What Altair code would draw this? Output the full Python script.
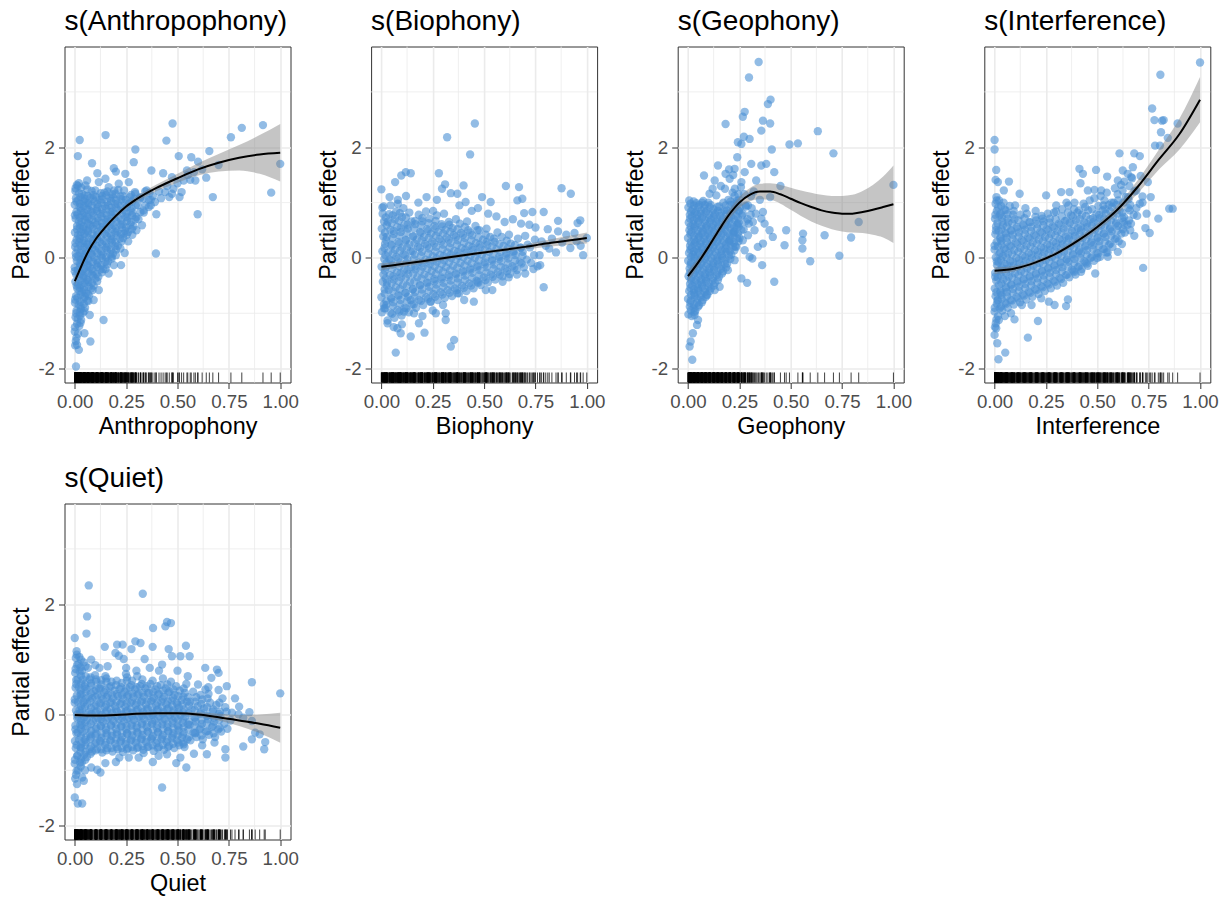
import altair as alt
import pandas as pd

FONT = "Liberation Sans"
W, H = 226, 336
X_DOMAIN = [-0.05, 1.05]
Y_DOMAIN = [-2.25, 3.82]
X_TICKS = [0, 0.25, 0.5, 0.75, 1.0]
Y_TICKS = [-2, 0, 2]
X_MINOR = [0.125, 0.375, 0.625, 0.875]
Y_MINOR = [-1, 1, 3]
POINT_COLOR = "#4A8FD3"

# Dense clouds are stored as (x values, y values) groups;
# isolated points as (x, y) pairs.

# ---------------- Anthropophony ----------------
anthro_cloud = [
    ([0.002, 0.008, 0.0, 0.011, 0.004, 0.009, 0.001, 0.006, 0.012, 0.003, 0.007, 0.0, 0.010, 0.005, 0.002, 0.009, 0.001, 0.011, 0.004, 0.008, 0.0, 0.006, 0.003, 0.010],
     [-1.58, -1.44, -1.33, -1.19, -1.07, -0.95, -0.81, -0.69, -0.55, -0.43, -0.3, -0.17, -0.05, 0.08, 0.2, 0.33, 0.46, 0.58, 0.71, 0.83, 0.96, 1.08, 1.21, 1.32]),
    ([0.005, 0.001, 0.007, 0.002, 0.009, 0.0, 0.006, 0.003, 0.011, 0.001, 0.008, 0.004],
     [-1.5, -1.25, -1.0, -0.75, -0.5, -0.24, 0.02, 0.27, 0.52, 0.77, 1.02, 1.26]),
    ([0.016, 0.022, 0.014, 0.025, 0.019, 0.013, 0.023, 0.017, 0.021, 0.015, 0.024, 0.018, 0.013, 0.022, 0.016, 0.025, 0.02, 0.014, 0.023, 0.017, 0.021, 0.015],
     [-1.37, -1.23, -1.1, -0.98, -0.85, -0.72, -0.6, -0.47, -0.34, -0.22, -0.09, 0.03, 0.16, 0.28, 0.41, 0.54, 0.66, 0.79, 0.92, 1.04, 1.17, 1.3]),
    ([0.028, 0.025, 0.03, 0.026, 0.029, 0.024, 0.027, 0.029, 0.025, 0.03, 0.026, 0.028, 0.024, 0.029, 0.027, 0.025, 0.03, 0.026, 0.028],
     [-1.17, -1.04, -0.92, -0.79, -0.66, -0.54, -0.41, -0.28, -0.16, -0.03, 0.09, 0.22, 0.35, 0.47, 0.6, 0.73, 0.85, 0.98, 1.1]),
    ([0.031, 0.04, 0.028, 0.043, 0.035, 0.03, 0.042, 0.037, 0.029, 0.044, 0.033, 0.039, 0.028, 0.041, 0.034, 0.038, 0.03, 0.043, 0.036, 0.032],
     [-1.12, -0.99, -0.87, -0.74, -0.61, -0.49, -0.36, -0.23, -0.11, 0.02, 0.14, 0.27, 0.4, 0.52, 0.65, 0.78, 0.9, 1.03, 1.15, 1.27]),
    ([0.047, 0.044, 0.049, 0.045, 0.048, 0.043, 0.046, 0.048, 0.044, 0.049, 0.045, 0.047, 0.043, 0.048, 0.046, 0.044, 0.049],
     [-0.96, -0.83, -0.7, -0.58, -0.45, -0.32, -0.19, -0.07, 0.06, 0.19, 0.31, 0.44, 0.57, 0.69, 0.82, 0.94, 1.07]),
    ([0.05, 0.061, 0.054, 0.047, 0.058, 0.052, 0.063, 0.049, 0.057, 0.06, 0.048, 0.055, 0.062, 0.051, 0.059, 0.053, 0.048, 0.061],
     [-0.9, -0.77, -0.64, -0.52, -0.39, -0.26, -0.13, -0.01, 0.12, 0.25, 0.37, 0.5, 0.63, 0.75, 0.88, 1.0, 1.13, 1.24]),
    ([0.066, 0.063, 0.068, 0.064, 0.067, 0.062, 0.065, 0.067, 0.063, 0.068, 0.064, 0.066, 0.062, 0.067, 0.065, 0.063],
     [-0.78, -0.65, -0.52, -0.4, -0.27, -0.14, -0.02, 0.11, 0.24, 0.36, 0.49, 0.61, 0.74, 0.87, 0.99, 1.12]),
    ([0.07, 0.08, 0.067, 0.083, 0.074, 0.069, 0.079, 0.072, 0.084, 0.066, 0.077, 0.071, 0.081, 0.068, 0.076, 0.082],
     [-0.68, -0.55, -0.43, -0.3, -0.17, -0.05, 0.08, 0.21, 0.34, 0.46, 0.59, 0.71, 0.84, 0.96, 1.09, 1.21]),
    ([0.087, 0.084, 0.089, 0.085, 0.088, 0.083, 0.086, 0.088, 0.084, 0.089, 0.085, 0.087, 0.083, 0.088],
     [-0.58, -0.45, -0.32, -0.2, -0.07, 0.06, 0.19, 0.31, 0.44, 0.57, 0.69, 0.82, 0.95, 1.07]),
    ([0.092, 0.101, 0.089, 0.105, 0.095, 0.099, 0.088, 0.104, 0.093, 0.1, 0.091, 0.106, 0.096, 0.09],
     [-0.5, -0.37, -0.24, -0.12, 0.01, 0.14, 0.26, 0.39, 0.52, 0.64, 0.77, 0.89, 1.02, 1.14]),
    ([0.109, 0.106, 0.111, 0.107, 0.11, 0.105, 0.108, 0.11, 0.106, 0.111, 0.107, 0.109, 0.105],
     [-0.42, -0.29, -0.16, -0.04, 0.09, 0.22, 0.34, 0.47, 0.6, 0.72, 0.85, 0.97, 1.1]),
    ([0.115, 0.125, 0.112, 0.128, 0.118, 0.122, 0.111, 0.127, 0.116, 0.124, 0.113, 0.121, 0.126],
     [-0.34, -0.21, -0.09, 0.04, 0.17, 0.29, 0.42, 0.55, 0.67, 0.8, 0.92, 1.05, 1.17]),
    ([0.132, 0.129, 0.134, 0.13, 0.133, 0.128, 0.131, 0.133, 0.129, 0.134, 0.13, 0.132],
     [-0.26, -0.13, 0.0, 0.12, 0.25, 0.38, 0.5, 0.63, 0.75, 0.88, 1.0, 1.12]),
    ([0.138, 0.149, 0.135, 0.151, 0.141, 0.146, 0.136, 0.15, 0.139, 0.147, 0.134, 0.144],
     [-0.2, -0.07, 0.06, 0.18, 0.31, 0.44, 0.56, 0.69, 0.81, 0.94, 1.06, 1.18]),
    ([0.156, 0.153, 0.158, 0.154, 0.157, 0.152, 0.155, 0.157, 0.153, 0.158, 0.154],
     [-0.12, 0.01, 0.14, 0.26, 0.39, 0.52, 0.64, 0.77, 0.89, 1.01, 1.14]),
    ([0.162, 0.172, 0.158, 0.175, 0.165, 0.169, 0.16, 0.174, 0.164, 0.171, 0.159],
     [-0.06, 0.07, 0.2, 0.32, 0.45, 0.58, 0.7, 0.83, 0.95, 1.08, 1.2]),
    ([0.179, 0.176, 0.181, 0.177, 0.18, 0.175, 0.178, 0.18, 0.176, 0.181],
     [0.02, 0.15, 0.28, 0.4, 0.53, 0.66, 0.78, 0.91, 1.03, 1.15]),
    ([0.186, 0.195, 0.182, 0.198, 0.189, 0.193, 0.184, 0.197, 0.188, 0.192],
     [0.08, 0.21, 0.34, 0.46, 0.59, 0.72, 0.84, 0.97, 1.09, 1.22]),
    ([0.201, 0.198, 0.203, 0.199, 0.202, 0.197, 0.2, 0.202, 0.198],
     [0.15, 0.28, 0.41, 0.53, 0.66, 0.79, 0.91, 1.04, 1.16]),
    ([0.21, 0.22, 0.207, 0.223, 0.213, 0.218, 0.209, 0.222, 0.212],
     [0.22, 0.35, 0.48, 0.6, 0.73, 0.86, 0.98, 1.11, 1.23]),
    ([0.228, 0.225, 0.23, 0.226, 0.229, 0.224, 0.227], [0.3, 0.43, 0.55, 0.68, 0.81, 0.93, 1.06]),
    ([0.235, 0.245, 0.232, 0.247, 0.238, 0.243, 0.234], [0.36, 0.49, 0.61, 0.74, 0.87, 0.99, 1.12]),
    ([0.253, 0.25, 0.255, 0.251, 0.254, 0.249], [0.42, 0.55, 0.67, 0.8, 0.92, 1.05]),
    ([0.26, 0.27, 0.257, 0.272, 0.263, 0.268], [0.47, 0.6, 0.73, 0.85, 0.98, 1.1]),
    ([0.278, 0.275, 0.28, 0.276, 0.279, 0.274], [0.52, 0.65, 0.77, 0.9, 1.02, 1.14]),
    ([0.286, 0.295, 0.282, 0.297, 0.289, 0.293], [0.57, 0.7, 0.82, 0.95, 1.07, 1.19]),
    ([0.31, 0.32, 0.308, 0.318], [0.7, 0.83, 0.95, 1.08]),
    ([0.336, 0.345, 0.333, 0.343], [0.82, 0.95, 1.07, 1.2]),
    ([0.36, 0.37, 0.363], [0.92, 1.05, 1.17]),
]
anthro_extra = [
    (0.024, 2.13), (0.15, 2.22), (0.015, 1.84), (0.084, 1.71), (0.11, 1.53), (0.295, 1.96),
    (0.287, 1.73), (0.19, 1.62), (0.2, 1.56), (0.246, 1.52), (0.149, 1.43), (0.373, 1.58),
    (0.476, 2.43), (0.446, 2.12), (0.506, 1.84), (0.43, 1.53), (0.567, 1.82), (0.6, 1.74),
    (0.655, 1.93), (0.7, 1.68), (0.76, 2.18), (0.813, 2.35), (0.916, 2.4), (1.0, 1.7),
    (0.956, 1.18), (0.672, 1.1), (0.598, 0.79), (0.397, 0.79), (0.395, 0.08), (0.473, 1.46),
    (0.53, 1.4), (0.546, 1.58), (0.562, 1.41), (0.587, 1.4), (0.44, 1.19), (0.473, 1.16),
    (0.52, 1.19), (0.39, 1.01), (0.35, 1.22), (0.32, 1.1), (0.335, 0.86), (0.3, 0.74),
    (0.327, 0.59), (0.24, 0.44), (0.222, 0.17), (0.243, 0.09), (0.19, -0.13), (0.165, -0.28),
    (0.225, -0.13), (0.18, -0.01), (0.14, -1.12), (0.076, -1.51), (0.047, -1.36), (0.02, -1.66),
    (0.006, -1.96), (0.011, -1.57), (0.073, -1.03), (0.092, -0.76), (0.117, -0.58), (0.052, 1.31),
    (0.02, 1.35), (0.06, 1.4), (0.1, 1.22), (0.117, 1.37), (0.165, 1.28), (0.214, 1.34),
    (0.263, 1.37), (0.24, 1.22), (0.295, 1.16), (0.36, 1.05), (0.38, 1.12), (0.41, 1.2),
    (0.45, 1.3), (0.48, 1.25), (0.5, 1.35), (0.55, 1.5), (0.58, 1.55), (0.62, 1.6),
    (0.64, 1.45), (0.37, 0.95), (0.42, 1.08), (0.46, 1.1), (0.51, 1.1), (0.28, 0.42),
    (0.3, 0.5), (0.26, 0.3), (0.2, 0.05), (0.15, -0.2),
]
anthro_sx = [0, 0.02, 0.04, 0.07, 0.1, 0.15, 0.2, 0.25, 0.3, 0.4, 0.5, 0.6, 0.7, 0.8, 0.9, 1.0]
anthro_fit = [-0.42, -0.25, -0.08, 0.15, 0.33, 0.56, 0.76, 0.93, 1.06, 1.27, 1.44, 1.6, 1.72, 1.81, 1.87, 1.9]
anthro_hw = [0.08, 0.06, 0.05, 0.04, 0.04, 0.04, 0.04, 0.04, 0.05, 0.06, 0.08, 0.11, 0.16, 0.23, 0.35, 0.52]

# ---------------- Biophony ----------------
bio_cloud = [
    ([0.003, 0.012, 0.0, 0.016, 0.007, 0.01, 0.001, 0.014, 0.005, 0.018, 0.009, 0.002, 0.013, 0.006, 0.011],
     [-0.98, -0.84, -0.71, -0.57, -0.43, -0.3, -0.16, -0.02, 0.12, 0.25, 0.39, 0.53, 0.66, 0.8, 0.93]),
    ([0.019, 0.024, 0.016, 0.026, 0.021, 0.017, 0.025, 0.02, 0.015, 0.023, 0.018, 0.026, 0.021],
     [-0.91, -0.78, -0.64, -0.5, -0.37, -0.23, -0.09, 0.05, 0.18, 0.32, 0.46, 0.59, 0.73]),
    ([0.03, 0.044, 0.024, 0.047, 0.036, 0.027, 0.041, 0.022, 0.039, 0.033, 0.048, 0.026, 0.043, 0.031, 0.038, 0.045],
     [-1.13, -0.99, -0.85, -0.72, -0.58, -0.44, -0.31, -0.17, -0.03, 0.1, 0.24, 0.38, 0.51, 0.65, 0.79, 0.95]),
    ([0.052, 0.057, 0.049, 0.055, 0.05, 0.058, 0.053, 0.048, 0.056, 0.051, 0.054, 0.059, 0.05, 0.055],
     [-1.01, -0.87, -0.74, -0.6, -0.46, -0.33, -0.19, -0.05, 0.08, 0.22, 0.36, 0.49, 0.63, 0.77]),
    ([0.064, 0.078, 0.058, 0.082, 0.07, 0.061, 0.075, 0.057, 0.073, 0.067, 0.083, 0.06, 0.077, 0.066, 0.072, 0.08],
     [-1.08, -0.94, -0.8, -0.67, -0.53, -0.39, -0.26, -0.12, 0.02, 0.15, 0.29, 0.43, 0.56, 0.7, 0.84, 0.98]),
    ([0.087, 0.092, 0.084, 0.09, 0.085, 0.093, 0.088, 0.083, 0.091, 0.086, 0.089, 0.094, 0.085, 0.09],
     [-0.97, -0.83, -0.69, -0.56, -0.42, -0.28, -0.15, -0.01, 0.13, 0.26, 0.4, 0.54, 0.67, 0.81]),
    ([0.099, 0.113, 0.093, 0.117, 0.105, 0.096, 0.11, 0.092, 0.108, 0.102, 0.118, 0.095, 0.112, 0.101, 0.107],
     [-1.04, -0.9, -0.76, -0.63, -0.49, -0.35, -0.22, -0.08, 0.06, 0.19, 0.33, 0.47, 0.6, 0.74, 0.9]),
    ([0.121, 0.126, 0.118, 0.124, 0.119, 0.127, 0.122, 0.117, 0.125, 0.12, 0.123, 0.128, 0.119],
     [-0.91, -0.77, -0.63, -0.5, -0.36, -0.22, -0.09, 0.05, 0.19, 0.32, 0.46, 0.6, 0.73]),
    ([0.134, 0.148, 0.128, 0.152, 0.14, 0.131, 0.145, 0.127, 0.143, 0.137, 0.153, 0.13, 0.147, 0.136],
     [-0.98, -0.84, -0.7, -0.57, -0.43, -0.29, -0.16, -0.02, 0.12, 0.25, 0.39, 0.53, 0.66, 0.82]),
    ([0.157, 0.162, 0.154, 0.16, 0.155, 0.163, 0.158, 0.153, 0.161, 0.156, 0.159, 0.164],
     [-0.84, -0.7, -0.56, -0.43, -0.29, -0.15, -0.02, 0.12, 0.26, 0.39, 0.53, 0.67]),
    ([0.169, 0.183, 0.163, 0.187, 0.175, 0.166, 0.18, 0.162, 0.178, 0.172, 0.188, 0.165, 0.182],
     [-0.9, -0.76, -0.62, -0.49, -0.35, -0.21, -0.08, 0.06, 0.2, 0.33, 0.47, 0.61, 0.78]),
    ([0.192, 0.197, 0.189, 0.195, 0.19, 0.198, 0.193, 0.188, 0.196, 0.191, 0.194, 0.199],
     [-0.78, -0.64, -0.5, -0.37, -0.23, -0.09, 0.04, 0.18, 0.32, 0.45, 0.59, 0.72]),
    ([0.204, 0.218, 0.198, 0.222, 0.21, 0.201, 0.215, 0.197, 0.213, 0.207, 0.223, 0.2, 0.217],
     [-0.85, -0.71, -0.57, -0.44, -0.3, -0.16, -0.03, 0.11, 0.25, 0.38, 0.52, 0.66, 0.84]),
    ([0.227, 0.232, 0.224, 0.23, 0.225, 0.233, 0.228, 0.223, 0.231, 0.226, 0.229],
     [-0.74, -0.6, -0.46, -0.33, -0.19, -0.05, 0.08, 0.22, 0.36, 0.49, 0.63]),
    ([0.239, 0.253, 0.233, 0.257, 0.245, 0.236, 0.25, 0.232, 0.248, 0.242, 0.258, 0.235, 0.252],
     [-0.79, -0.65, -0.52, -0.38, -0.24, -0.11, 0.03, 0.17, 0.3, 0.44, 0.58, 0.71, 0.85]),
    ([0.262, 0.267, 0.259, 0.265, 0.26, 0.268, 0.263, 0.258, 0.266, 0.261, 0.264],
     [-0.7, -0.56, -0.42, -0.29, -0.15, -0.01, 0.12, 0.26, 0.4, 0.53, 0.67]),
    ([0.274, 0.288, 0.268, 0.292, 0.28, 0.271, 0.285, 0.267, 0.283, 0.277, 0.293, 0.27],
     [-0.76, -0.62, -0.48, -0.35, -0.21, -0.07, 0.06, 0.2, 0.34, 0.47, 0.61, 0.77]),
    ([0.297, 0.302, 0.294, 0.3, 0.295, 0.303, 0.298, 0.293, 0.301, 0.296],
     [-0.66, -0.52, -0.38, -0.25, -0.11, 0.03, 0.16, 0.3, 0.44, 0.57]),
    ([0.309, 0.323, 0.303, 0.327, 0.315, 0.306, 0.32, 0.302, 0.318, 0.312, 0.328, 0.305],
     [-0.72, -0.58, -0.45, -0.31, -0.17, -0.04, 0.1, 0.24, 0.37, 0.51, 0.65, 0.8]),
    ([0.332, 0.337, 0.329, 0.335, 0.33, 0.338, 0.333, 0.328, 0.336, 0.331],
     [-0.63, -0.49, -0.35, -0.22, -0.08, 0.06, 0.19, 0.33, 0.47, 0.6]),
    ([0.344, 0.358, 0.338, 0.362, 0.35, 0.341, 0.355, 0.337, 0.353, 0.347, 0.363],
     [-0.69, -0.55, -0.41, -0.28, -0.14, 0.0, 0.13, 0.27, 0.41, 0.54, 0.7]),
    ([0.367, 0.372, 0.364, 0.37, 0.365, 0.373, 0.368, 0.363, 0.371],
     [-0.58, -0.44, -0.3, -0.17, -0.03, 0.11, 0.24, 0.38, 0.52]),
    ([0.379, 0.393, 0.373, 0.397, 0.385, 0.376, 0.39, 0.372, 0.388, 0.382],
     [-0.64, -0.5, -0.37, -0.23, -0.09, 0.04, 0.18, 0.32, 0.45, 0.62]),
    ([0.402, 0.407, 0.399, 0.405, 0.4, 0.408, 0.403, 0.398, 0.406],
     [-0.54, -0.4, -0.26, -0.13, 0.01, 0.15, 0.28, 0.42, 0.56]),
    ([0.414, 0.428, 0.408, 0.432, 0.42, 0.411, 0.425, 0.407, 0.423, 0.417],
     [-0.6, -0.46, -0.32, -0.19, -0.05, 0.09, 0.22, 0.36, 0.5, 0.66]),
    ([0.437, 0.442, 0.434, 0.44, 0.435, 0.443, 0.438, 0.433],
     [-0.5, -0.36, -0.22, -0.09, 0.05, 0.19, 0.32, 0.46]),
    ([0.449, 0.463, 0.443, 0.467, 0.455, 0.446, 0.46, 0.442, 0.458],
     [-0.55, -0.41, -0.27, -0.14, 0.0, 0.14, 0.27, 0.41, 0.58]),
    ([0.472, 0.477, 0.469, 0.475, 0.47, 0.478, 0.473, 0.468],
     [-0.45, -0.31, -0.17, -0.04, 0.1, 0.24, 0.37, 0.5]),
    ([0.484, 0.498, 0.478, 0.502, 0.49, 0.481, 0.495, 0.477],
     [-0.49, -0.35, -0.22, -0.08, 0.06, 0.19, 0.33, 0.5]),
    ([0.507, 0.512, 0.504, 0.51, 0.505, 0.513, 0.508], [-0.4, -0.26, -0.12, 0.01, 0.15, 0.29, 0.42]),
    ([0.519, 0.533, 0.513, 0.537, 0.525, 0.516, 0.53, 0.512],
     [-0.44, -0.3, -0.17, -0.03, 0.11, 0.24, 0.38, 0.53]),
    ([0.542, 0.547, 0.539, 0.545, 0.54, 0.548], [-0.34, -0.2, -0.06, 0.07, 0.21, 0.35]),
    ([0.554, 0.568, 0.548, 0.572, 0.56, 0.551, 0.565], [-0.39, -0.25, -0.12, 0.02, 0.16, 0.29, 0.46]),
    ([0.577, 0.582, 0.574, 0.58, 0.575], [-0.3, -0.16, -0.02, 0.11, 0.25]),
    ([0.589, 0.603, 0.583, 0.607, 0.595, 0.586], [-0.33, -0.19, -0.06, 0.08, 0.22, 0.38]),
    ([0.612, 0.617, 0.609, 0.615, 0.61], [-0.24, -0.1, 0.04, 0.17, 0.31]),
    ([0.624, 0.638, 0.618, 0.642, 0.63, 0.621], [-0.29, -0.15, -0.01, 0.12, 0.26, 0.42]),
    ([0.647, 0.652, 0.644, 0.65], [-0.18, -0.04, 0.1, 0.23]),
    ([0.659, 0.673, 0.653, 0.677, 0.665], [-0.22, -0.08, 0.05, 0.19, 0.35]),
    ([0.682, 0.687, 0.679], [-0.1, 0.04, 0.18]),
    ([0.694, 0.708, 0.688, 0.712, 0.7], [-0.17, -0.03, 0.11, 0.24, 0.4]),
    ([0.729, 0.743, 0.723, 0.747], [-0.09, 0.05, 0.19, 0.33]),
]
bio_extra = [
    (0.455, 2.43), (0.32, 2.18), (0.432, 1.87), (0.0, 1.24), (0.005, 0.91), (0.067, 1.37),
    (0.097, 1.49), (0.119, 1.55), (0.143, 1.53), (0.28, 1.53), (0.31, 1.33), (0.4, 1.31),
    (0.295, 1.25), (0.338, 1.17), (0.37, 1.16), (0.41, 1.01), (0.49, 1.1), (0.532, 1.01),
    (0.606, 1.3), (0.67, 1.28), (0.686, 1.07), (0.662, 1.04), (0.695, 0.81), (0.735, 0.83),
    (0.79, 0.83), (0.877, 1.26), (0.922, 1.16), (0.86, 0.67), (0.955, 0.63), (0.968, 0.68),
    (0.982, 0.05), (0.817, 0.17), (0.79, -0.53), (0.773, -0.13), (0.07, -1.71), (0.03, -1.18),
    (0.078, -1.27), (0.094, -1.36), (0.143, -1.42), (0.21, -1.35), (0.183, -1.18), (0.338, -1.6),
    (0.354, -1.48), (0.313, -1.0), (0.313, -1.12), (0.013, -0.91), (0.11, -0.97), (0.159, -1.0),
    (0.265, -1.0), (0.59, -0.43), (0.508, -0.58), (0.54, -0.58), (0.45, -0.79), (0.403, -0.76),
    (0.37, -0.64), (0.468, -0.43), (0.143, -0.76), (0.24, -0.79), (0.77, 0.05), (0.8, 0.22),
    (0.83, 0.35), (0.85, 0.1), (0.88, 0.28), (0.9, 0.42), (0.92, 0.18), (0.95, 0.3),
    (0.97, 0.22), (1.0, 0.36), (0.94, 0.45), (0.86, 0.48), (0.81, 0.52), (0.78, 0.3),
    (0.76, -0.15), (0.75, 0.55), (0.72, 0.6), (0.68, 0.62), (0.64, 0.7), (0.6, 0.65),
    (0.56, 0.75), (0.52, 0.8), (0.47, 0.9), (0.44, 0.85), (0.38, 0.95), (0.27, 1.05),
    (0.22, 1.1), (0.18, 1.0), (0.12, 1.12), (0.08, 1.05), (0.04, 1.1), (0.1, -1.2),
    (0.06, -1.25), (0.2, -1.05), (0.25, -0.95), (0.3, -0.85), (0.62, -0.35), (0.66, -0.3),
    (0.7, -0.28), (0.74, -0.2),
]
bio_sx = [0, 0.1, 0.2, 0.3, 0.4, 0.5, 0.6, 0.7, 0.8, 0.9, 1.0]
bio_fit = [-0.16, -0.11, -0.06, -0.005, 0.05, 0.1, 0.15, 0.2, 0.26, 0.31, 0.36]
bio_hw = [0.06, 0.05, 0.04, 0.035, 0.03, 0.03, 0.035, 0.045, 0.06, 0.08, 0.1]

# ---------------- Geophony ----------------
geo_cloud = [
    ([0.002, 0.009, 0.0, 0.006, 0.01, 0.003, 0.008, 0.001, 0.005, 0.01, 0.0, 0.007, 0.004, 0.009, 0.002, 0.006],
     [-1.02, -0.88, -0.74, -0.6, -0.47, -0.33, -0.19, -0.05, 0.09, 0.22, 0.36, 0.5, 0.64, 0.78, 0.91, 1.04]),
    ([0.014, 0.011, 0.015, 0.012, 0.014, 0.01, 0.013, 0.015, 0.011, 0.014, 0.012, 0.013, 0.01, 0.015, 0.012],
     [-0.95, -0.81, -0.67, -0.54, -0.4, -0.26, -0.12, 0.02, 0.15, 0.29, 0.43, 0.57, 0.71, 0.84, 0.98]),
    ([0.018, 0.027, 0.014, 0.029, 0.021, 0.016, 0.025, 0.015, 0.024, 0.019, 0.03, 0.017, 0.026, 0.02, 0.023, 0.028],
     [-1.05, -0.91, -0.77, -0.63, -0.5, -0.36, -0.22, -0.08, 0.06, 0.19, 0.33, 0.47, 0.61, 0.75, 0.88, 1.02]),
    ([0.032, 0.029, 0.033, 0.03, 0.032, 0.028, 0.031, 0.033, 0.029, 0.032, 0.03, 0.031, 0.028, 0.033, 0.03],
     [-0.98, -0.84, -0.7, -0.57, -0.43, -0.29, -0.15, -0.01, 0.12, 0.26, 0.4, 0.54, 0.68, 0.81, 0.95]),
    ([0.036, 0.045, 0.032, 0.047, 0.039, 0.034, 0.043, 0.033, 0.042, 0.037, 0.048, 0.035, 0.044, 0.038, 0.041],
     [-0.95, -0.81, -0.67, -0.54, -0.4, -0.26, -0.12, 0.02, 0.15, 0.29, 0.43, 0.57, 0.71, 0.84, 0.99]),
    ([0.05, 0.047, 0.051, 0.048, 0.05, 0.046, 0.049, 0.051, 0.047, 0.05, 0.048, 0.049, 0.046, 0.051],
     [-0.88, -0.74, -0.6, -0.47, -0.33, -0.19, -0.05, 0.09, 0.22, 0.36, 0.5, 0.64, 0.78, 0.92]),
    ([0.054, 0.063, 0.05, 0.065, 0.057, 0.052, 0.061, 0.051, 0.06, 0.055, 0.066, 0.053, 0.062, 0.056],
     [-0.85, -0.71, -0.57, -0.44, -0.3, -0.16, -0.02, 0.12, 0.25, 0.39, 0.53, 0.67, 0.8, 0.96]),
    ([0.068, 0.065, 0.069, 0.066, 0.068, 0.064, 0.067, 0.069, 0.065, 0.068, 0.066, 0.067, 0.064, 0.069],
     [-0.8, -0.66, -0.52, -0.39, -0.25, -0.11, 0.03, 0.16, 0.3, 0.44, 0.58, 0.72, 0.86, 1.0]),
    ([0.072, 0.081, 0.068, 0.083, 0.075, 0.07, 0.079, 0.069, 0.078, 0.073, 0.084, 0.071, 0.08, 0.074],
     [-0.76, -0.62, -0.48, -0.35, -0.21, -0.07, 0.07, 0.2, 0.34, 0.48, 0.62, 0.75, 0.89, 1.03]),
    ([0.087, 0.084, 0.088, 0.085, 0.087, 0.083, 0.086, 0.088, 0.084, 0.087, 0.085, 0.086, 0.083],
     [-0.7, -0.56, -0.42, -0.29, -0.15, -0.01, 0.13, 0.26, 0.4, 0.54, 0.68, 0.82, 0.96]),
    ([0.091, 0.1, 0.087, 0.102, 0.094, 0.089, 0.098, 0.088, 0.097, 0.092, 0.103, 0.09, 0.099],
     [-0.66, -0.52, -0.38, -0.25, -0.11, 0.03, 0.17, 0.3, 0.44, 0.58, 0.72, 0.85, 1.0]),
    ([0.106, 0.103, 0.107, 0.104, 0.106, 0.102, 0.105, 0.107, 0.103, 0.106, 0.104, 0.105],
     [-0.6, -0.46, -0.32, -0.19, -0.05, 0.09, 0.23, 0.36, 0.5, 0.64, 0.78, 0.92]),
    ([0.111, 0.12, 0.107, 0.122, 0.114, 0.109, 0.118, 0.108, 0.117, 0.112, 0.123, 0.11],
     [-0.55, -0.41, -0.27, -0.14, 0.0, 0.14, 0.28, 0.41, 0.55, 0.69, 0.82, 0.96]),
    ([0.126, 0.123, 0.127, 0.124, 0.126, 0.122, 0.125, 0.127, 0.123, 0.126, 0.124],
     [-0.5, -0.36, -0.22, -0.09, 0.05, 0.19, 0.33, 0.46, 0.6, 0.74, 0.88]),
    ([0.131, 0.14, 0.127, 0.142, 0.134, 0.129, 0.138, 0.128, 0.137, 0.132, 0.143],
     [-0.45, -0.31, -0.17, -0.04, 0.1, 0.24, 0.38, 0.51, 0.65, 0.79, 0.92]),
    ([0.146, 0.143, 0.147, 0.144, 0.146, 0.142, 0.145, 0.147, 0.143, 0.146],
     [-0.4, -0.26, -0.12, 0.01, 0.15, 0.29, 0.43, 0.56, 0.7, 0.85]),
    ([0.151, 0.16, 0.147, 0.162, 0.154, 0.149, 0.158, 0.148, 0.157, 0.152],
     [-0.34, -0.2, -0.06, 0.07, 0.21, 0.35, 0.49, 0.62, 0.76, 0.93]),
    ([0.166, 0.163, 0.167, 0.164, 0.166, 0.162, 0.165, 0.167, 0.163],
     [-0.28, -0.14, 0.0, 0.13, 0.27, 0.41, 0.55, 0.68, 0.82]),
    ([0.171, 0.18, 0.167, 0.182, 0.174, 0.169, 0.178, 0.168, 0.177, 0.172],
     [-0.24, -0.1, 0.04, 0.17, 0.31, 0.45, 0.59, 0.72, 0.86, 1.0]),
    ([0.186, 0.183, 0.187, 0.184, 0.186, 0.182, 0.185, 0.187, 0.183],
     [-0.17, -0.03, 0.11, 0.24, 0.38, 0.52, 0.66, 0.8, 0.95]),
    ([0.191, 0.2, 0.187, 0.202, 0.194, 0.189, 0.198, 0.188, 0.197],
     [-0.1, 0.04, 0.17, 0.31, 0.45, 0.59, 0.72, 0.86, 1.05]),
    ([0.206, 0.203, 0.207, 0.204, 0.206, 0.202, 0.205, 0.207],
     [-0.02, 0.12, 0.26, 0.4, 0.54, 0.68, 0.82, 0.96]),
    ([0.211, 0.22, 0.207, 0.222, 0.214, 0.209, 0.218, 0.208, 0.217],
     [0.06, 0.2, 0.33, 0.47, 0.61, 0.75, 0.88, 1.02, 1.18]),
    ([0.226, 0.223, 0.227, 0.224, 0.226, 0.222, 0.225, 0.227],
     [0.14, 0.28, 0.42, 0.55, 0.69, 0.83, 0.97, 1.12]),
    ([0.231, 0.24, 0.227, 0.242, 0.234, 0.229, 0.238, 0.228], [0.21, 0.35, 0.48, 0.62, 0.76, 0.9, 1.03, 1.25]),
    ([0.246, 0.243, 0.247, 0.244, 0.246, 0.242, 0.245], [0.3, 0.44, 0.57, 0.71, 0.85, 0.99, 1.15]),
    ([0.251, 0.26, 0.247, 0.262, 0.254, 0.249, 0.258], [0.36, 0.5, 0.63, 0.77, 0.91, 1.05, 1.28]),
    ([0.271, 0.28, 0.267, 0.282, 0.274], [0.52, 0.66, 0.8, 0.93, 1.15]),
    ([0.296, 0.305, 0.292, 0.307], [0.62, 0.78, 0.95, 1.12]),
]
geo_extra = [
    (0.344, 3.54), (0.297, 3.26), (0.402, 2.86), (0.389, 2.78), (0.276, 2.64), (0.267, 2.55),
    (0.183, 2.42), (0.365, 2.48), (0.4, 2.43), (0.357, 2.3), (0.272, 2.19), (0.3, 2.15),
    (0.243, 2.09), (0.26, 2.06), (0.408, 1.96), (0.24, 1.82), (0.494, 2.05), (0.535, 2.07),
    (0.632, 2.29), (0.708, 1.89), (1.0, 1.32), (0.831, 0.65), (0.794, 0.37), (0.665, 0.41),
    (0.737, 0.04), (0.595, -0.06), (0.56, 0.44), (0.557, 0.32), (0.557, 0.17), (0.478, 0.5),
    (0.47, 0.23), (0.42, -0.43), (0.361, -0.13), (0.288, -0.45), (0.26, -0.37), (0.313, -0.01),
    (0.078, 1.49), (0.146, 1.67), (0.183, 1.52), (0.227, 1.61), (0.276, 1.55), (0.308, 1.7),
    (0.357, 1.67), (0.381, 1.7), (0.42, 1.55), (0.332, 1.4), (0.203, 1.43), (0.26, 1.37),
    (0.13, 1.4), (0.105, 1.16), (0.138, 1.13), (0.365, 0.83), (0.357, 0.71), (0.316, 0.65),
    (0.324, 0.5), (0.373, 0.62), (0.397, 0.5), (0.413, 0.38), (0.365, 0.26), (0.34, 0.2),
    (0.292, 0.41), (0.267, 0.32), (0.276, 0.14), (0.3, 0.02), (0.235, 0.2), (0.227, -0.04),
    (0.194, -0.22), (0.154, -0.52), (0.13, -0.58), (0.094, -0.67), (0.044, -1.21), (0.024, -1.36),
    (0.013, -1.51), (0.021, -1.84), (0.008, -1.6), (0.049, -1.12), (0.032, -1.03), (0.32, 1.2),
    (0.35, 1.05), (0.4, 1.1), (0.45, 1.3), (0.31, 0.9), (0.33, 0.8), (0.28, 0.95),
    (0.25, 0.85), (0.22, 0.45), (0.2, 0.3), (0.18, 1.25), (0.16, 1.3), (0.2, 1.6),
    (0.22, 1.5), (0.12, 1.25), (0.24, 0.6), (0.29, 0.7),
]
geo_sx = [0, 0.05, 0.1, 0.15, 0.2, 0.25, 0.3, 0.35, 0.4, 0.45, 0.5, 0.55, 0.6, 0.65, 0.7, 0.75, 0.8, 0.85, 0.9, 0.95, 1.0]
geo_fit = [-0.33, -0.08, 0.2, 0.5, 0.78, 1.0, 1.14, 1.2, 1.2, 1.15, 1.07, 0.99, 0.92, 0.86, 0.82, 0.8, 0.8, 0.83, 0.87, 0.92, 0.97]
geo_hw = [0.1, 0.07, 0.06, 0.07, 0.08, 0.1, 0.12, 0.14, 0.15, 0.17, 0.2, 0.23, 0.26, 0.28, 0.3, 0.32, 0.34, 0.38, 0.45, 0.55, 0.7]

# ---------------- Interference ----------------
int_cloud = [
    ([0.002, 0.009, 0.0, 0.011, 0.005, 0.001, 0.008, 0.003, 0.012, 0.006, 0.0, 0.01, 0.004, 0.007, 0.002, 0.011, 0.005, 0.009],
     [-1.25, -1.11, -0.97, -0.83, -0.69, -0.55, -0.41, -0.27, -0.13, 0.01, 0.15, 0.29, 0.43, 0.57, 0.71, 0.85, 0.98, 1.1]),
    ([0.006, 0.001, 0.009, 0.003, 0.011, 0.0, 0.007, 0.004, 0.01],
     [-1.18, -0.9, -0.62, -0.34, -0.06, 0.22, 0.5, 0.78, 1.04]),
    ([0.017, 0.025, 0.014, 0.028, 0.021, 0.015, 0.026, 0.019, 0.023, 0.016, 0.027, 0.02, 0.014, 0.024, 0.018, 0.022],
     [-1.05, -0.91, -0.77, -0.63, -0.49, -0.35, -0.21, -0.07, 0.07, 0.21, 0.35, 0.49, 0.63, 0.77, 0.91, 1.04]),
    ([0.031, 0.035, 0.029, 0.033, 0.03, 0.036, 0.032, 0.028, 0.034, 0.03, 0.033, 0.037, 0.029, 0.032],
     [-0.88, -0.74, -0.6, -0.46, -0.32, -0.18, -0.04, 0.1, 0.24, 0.38, 0.52, 0.66, 0.8, 0.94]),
    ([0.038, 0.051, 0.034, 0.055, 0.043, 0.036, 0.05, 0.04, 0.047, 0.033, 0.053, 0.041, 0.037, 0.049, 0.044],
     [-0.95, -0.81, -0.67, -0.53, -0.39, -0.25, -0.11, 0.03, 0.17, 0.31, 0.45, 0.59, 0.73, 0.87, 1.0]),
    ([0.057, 0.061, 0.055, 0.059, 0.056, 0.062, 0.058, 0.054, 0.06, 0.056, 0.059, 0.063, 0.055],
     [-0.83, -0.69, -0.55, -0.41, -0.27, -0.13, 0.01, 0.15, 0.29, 0.43, 0.57, 0.71, 0.86]),
    ([0.064, 0.077, 0.06, 0.081, 0.069, 0.062, 0.076, 0.066, 0.073, 0.059, 0.079, 0.067, 0.063, 0.074],
     [-0.9, -0.76, -0.62, -0.48, -0.34, -0.2, -0.06, 0.08, 0.22, 0.36, 0.5, 0.64, 0.79, 0.94]),
    ([0.084, 0.088, 0.082, 0.086, 0.083, 0.089, 0.085, 0.081, 0.087, 0.083, 0.086, 0.09],
     [-0.77, -0.63, -0.49, -0.35, -0.21, -0.07, 0.07, 0.21, 0.35, 0.49, 0.63, 0.78]),
    ([0.094, 0.107, 0.09, 0.111, 0.099, 0.092, 0.106, 0.096, 0.103, 0.089, 0.109, 0.097, 0.093],
     [-0.84, -0.7, -0.56, -0.42, -0.28, -0.14, 0.0, 0.14, 0.28, 0.42, 0.56, 0.7, 0.85]),
    ([0.114, 0.118, 0.112, 0.116, 0.113, 0.119, 0.115, 0.111, 0.117, 0.113, 0.116],
     [-0.73, -0.59, -0.45, -0.31, -0.17, -0.03, 0.11, 0.25, 0.39, 0.53, 0.68]),
    ([0.124, 0.137, 0.12, 0.141, 0.129, 0.122, 0.136, 0.126, 0.133, 0.119, 0.139, 0.127],
     [-0.8, -0.66, -0.52, -0.38, -0.24, -0.1, 0.04, 0.18, 0.32, 0.46, 0.6, 0.78]),
    ([0.144, 0.148, 0.142, 0.146, 0.143, 0.149, 0.145, 0.141, 0.147, 0.143, 0.146],
     [-0.68, -0.54, -0.4, -0.26, -0.12, 0.02, 0.16, 0.3, 0.44, 0.58, 0.72]),
    ([0.154, 0.167, 0.15, 0.171, 0.159, 0.152, 0.166, 0.156, 0.163, 0.149, 0.169, 0.157],
     [-0.75, -0.61, -0.47, -0.33, -0.19, -0.05, 0.09, 0.23, 0.37, 0.51, 0.65, 0.8]),
    ([0.174, 0.178, 0.172, 0.176, 0.173, 0.179, 0.175, 0.171, 0.177, 0.173],
     [-0.63, -0.49, -0.35, -0.21, -0.07, 0.07, 0.21, 0.35, 0.49, 0.64]),
    ([0.184, 0.197, 0.18, 0.201, 0.189, 0.182, 0.196, 0.186, 0.193, 0.179, 0.199],
     [-0.7, -0.56, -0.42, -0.28, -0.14, 0.0, 0.14, 0.28, 0.42, 0.56, 0.74]),
    ([0.204, 0.208, 0.202, 0.206, 0.203, 0.209, 0.205, 0.201, 0.207, 0.203],
     [-0.58, -0.44, -0.3, -0.16, -0.02, 0.12, 0.26, 0.4, 0.54, 0.68]),
    ([0.214, 0.227, 0.21, 0.231, 0.219, 0.212, 0.226, 0.216, 0.223, 0.209, 0.229],
     [-0.65, -0.51, -0.37, -0.23, -0.09, 0.05, 0.19, 0.33, 0.47, 0.61, 0.76]),
    ([0.234, 0.238, 0.232, 0.236, 0.233, 0.239, 0.235, 0.231, 0.237, 0.233],
     [-0.53, -0.39, -0.25, -0.11, 0.03, 0.17, 0.31, 0.45, 0.59, 0.71]),
    ([0.244, 0.257, 0.24, 0.261, 0.249, 0.242, 0.256, 0.246, 0.253, 0.239, 0.259],
     [-0.6, -0.46, -0.32, -0.18, -0.04, 0.1, 0.24, 0.38, 0.52, 0.66, 0.8]),
    ([0.264, 0.268, 0.262, 0.266, 0.263, 0.269, 0.265, 0.261, 0.267],
     [-0.48, -0.34, -0.2, -0.06, 0.08, 0.22, 0.36, 0.5, 0.64]),
    ([0.274, 0.287, 0.27, 0.291, 0.279, 0.272, 0.286, 0.276, 0.283, 0.269, 0.289],
     [-0.55, -0.41, -0.27, -0.13, 0.01, 0.15, 0.29, 0.43, 0.57, 0.71, 0.82]),
    ([0.294, 0.298, 0.292, 0.296, 0.293, 0.299, 0.295, 0.291, 0.297],
     [-0.43, -0.29, -0.15, -0.01, 0.13, 0.27, 0.41, 0.55, 0.7]),
    ([0.304, 0.317, 0.3, 0.321, 0.309, 0.302, 0.316, 0.306, 0.313, 0.299],
     [-0.5, -0.36, -0.22, -0.08, 0.06, 0.2, 0.34, 0.48, 0.62, 0.84]),
    ([0.324, 0.328, 0.322, 0.326, 0.323, 0.329, 0.325, 0.321, 0.327],
     [-0.38, -0.24, -0.1, 0.04, 0.18, 0.32, 0.46, 0.6, 0.75]),
    ([0.334, 0.347, 0.33, 0.351, 0.339, 0.332, 0.346, 0.336, 0.343, 0.329],
     [-0.45, -0.31, -0.17, -0.03, 0.11, 0.25, 0.39, 0.53, 0.67, 0.88]),
    ([0.354, 0.358, 0.352, 0.356, 0.353, 0.359, 0.355, 0.351, 0.357],
     [-0.3, -0.16, -0.02, 0.12, 0.26, 0.4, 0.54, 0.68, 0.82]),
    ([0.364, 0.377, 0.36, 0.381, 0.369, 0.362, 0.376, 0.366, 0.373, 0.359],
     [-0.35, -0.21, -0.07, 0.07, 0.21, 0.35, 0.49, 0.63, 0.77, 0.95]),
    ([0.384, 0.388, 0.382, 0.386, 0.383, 0.389, 0.385, 0.381, 0.387],
     [-0.23, -0.09, 0.05, 0.19, 0.33, 0.47, 0.61, 0.75, 0.88]),
    ([0.394, 0.407, 0.39, 0.411, 0.399, 0.392, 0.406, 0.396, 0.403, 0.389],
     [-0.3, -0.16, -0.02, 0.12, 0.26, 0.4, 0.54, 0.68, 0.82, 1.0]),
    ([0.414, 0.418, 0.412, 0.416, 0.413, 0.419, 0.415, 0.411],
     [-0.14, 0.0, 0.14, 0.28, 0.42, 0.56, 0.7, 0.86]),
    ([0.424, 0.437, 0.42, 0.441, 0.429, 0.422, 0.436, 0.426, 0.433],
     [-0.2, -0.06, 0.08, 0.22, 0.36, 0.5, 0.64, 0.78, 0.98]),
    ([0.444, 0.448, 0.442, 0.446, 0.443, 0.449, 0.445, 0.441],
     [-0.08, 0.06, 0.2, 0.34, 0.48, 0.62, 0.76, 0.92]),
    ([0.454, 0.467, 0.45, 0.471, 0.459, 0.452, 0.466, 0.456, 0.463],
     [-0.14, 0.0, 0.14, 0.28, 0.42, 0.56, 0.7, 0.86, 1.04]),
    ([0.474, 0.478, 0.472, 0.476, 0.473, 0.479, 0.475], [0.02, 0.16, 0.3, 0.44, 0.58, 0.72, 0.88]),
    ([0.484, 0.497, 0.48, 0.501, 0.489, 0.482, 0.496, 0.486], [-0.05, 0.09, 0.23, 0.37, 0.51, 0.65, 0.79, 1.08]),
    ([0.504, 0.508, 0.502, 0.506, 0.503, 0.509, 0.505], [0.08, 0.22, 0.36, 0.5, 0.64, 0.78, 0.94]),
    ([0.514, 0.527, 0.51, 0.531, 0.519, 0.512, 0.526, 0.516], [0.02, 0.16, 0.3, 0.44, 0.58, 0.72, 0.86, 1.12]),
    ([0.534, 0.538, 0.532, 0.536, 0.533, 0.539, 0.535], [0.16, 0.3, 0.44, 0.58, 0.72, 0.88, 1.04]),
    ([0.544, 0.557, 0.54, 0.561, 0.549, 0.542, 0.556, 0.546], [0.1, 0.24, 0.38, 0.52, 0.66, 0.8, 0.96, 1.18]),
    ([0.564, 0.568, 0.562, 0.566, 0.563, 0.569], [0.26, 0.4, 0.54, 0.68, 0.84, 1.0]),
    ([0.574, 0.587, 0.57, 0.591, 0.579, 0.572, 0.586], [0.2, 0.34, 0.48, 0.62, 0.76, 0.92, 1.26]),
    ([0.594, 0.598, 0.592, 0.596, 0.593, 0.599], [0.36, 0.5, 0.64, 0.8, 0.96, 1.15]),
    ([0.604, 0.617, 0.6, 0.621, 0.609, 0.602, 0.616], [0.3, 0.44, 0.58, 0.72, 0.86, 1.04, 1.32]),
    ([0.624, 0.628, 0.622, 0.626, 0.623], [0.52, 0.66, 0.82, 1.0, 1.22]),
    ([0.634, 0.647, 0.63, 0.651, 0.639, 0.632], [0.46, 0.6, 0.74, 0.9, 1.1, 1.38]),
    ([0.654, 0.658, 0.652, 0.656], [0.68, 0.86, 1.06, 1.3]),
    ([0.664, 0.677, 0.66, 0.681, 0.669], [0.62, 0.78, 0.96, 1.2, 1.44]),
    ([0.694, 0.707, 0.69, 0.711], [0.76, 0.98, 1.22, 1.48]),
]
int_extra = [
    (1.0, 3.53), (0.807, 3.31), (0.767, 2.7), (0.778, 2.49), (0.815, 2.48), (0.823, 2.49),
    (0.891, 2.43), (0.81, 2.27), (0.843, 2.17), (0.781, 2.03), (0.805, 2.03), (0.608, 1.89),
    (0.68, 1.89), (0.707, 1.84), (0.746, 1.37), (0.72, 1.11), (0.797, 0.71), (0.85, 0.89),
    (0.867, 0.89), (0.734, 0.54), (0.755, 0.45), (0.723, -0.18), (0.0, 2.13), (0.0, 1.96),
    (0.008, 1.59), (0.005, 1.41), (0.016, 1.37), (0.07, 1.38), (0.122, 1.16), (0.045, 1.22),
    (0.251, 1.13), (0.324, 1.19), (0.365, 1.19), (0.413, 1.61), (0.43, 1.52), (0.494, 1.59),
    (0.418, 1.35), (0.454, 1.22), (0.486, 1.23), (0.519, 1.22), (0.548, 1.47), (0.6, 1.4),
    (0.624, 1.58), (0.648, 1.52), (0.673, 1.64), (0.665, 1.46), (0.013, -1.54), (0.019, -1.83),
    (0.052, -1.71), (0.0, -1.39), (0.162, -1.44), (0.211, -1.14), (0.097, -1.11), (0.133, -0.85),
    (0.227, -0.73), (0.264, -0.79), (0.292, -0.85), (0.348, -0.87), (0.357, -0.75), (0.389, -0.25),
    (0.49, -0.28), (0.421, -0.25), (0.551, 0.02), (0.6, 0.11), (0.016, -0.76), (0.008, -1.27),
    (0.021, -1.12), (0.63, 0.6), (0.66, 0.5), (0.69, 0.9), (0.72, 1.0), (0.74, 0.8),
    (0.76, 1.1), (0.65, 1.1), (0.58, 1.0), (0.53, 0.95), (0.1, 0.95), (0.15, 0.9),
    (0.2, 0.85), (0.3, 0.95), (0.35, 1.0), (0.18, -0.85), (0.08, -1.0), (0.05, -1.05),
    (0.45, -0.1), (0.5, 0.0), (0.55, 0.1), (0.62, 0.25), (0.68, 0.4),
]
int_sx = [0, 0.1, 0.2, 0.3, 0.4, 0.5, 0.6, 0.7, 0.8, 0.9, 1.0]
int_fit = [-0.23, -0.19, -0.08, 0.08, 0.3, 0.56, 0.88, 1.3, 1.78, 2.24, 2.86]
int_hw = [0.06, 0.05, 0.04, 0.04, 0.05, 0.06, 0.08, 0.12, 0.18, 0.28, 0.41]

# ---------------- Quiet ----------------
quiet_cloud = [
    ([0.002, 0.009, 0.0, 0.011, 0.005, 0.001, 0.008, 0.003, 0.012, 0.006, 0.0, 0.01, 0.004, 0.007, 0.002, 0.011, 0.005, 0.009],
     [-1.15, -1.01, -0.88, -0.74, -0.6, -0.47, -0.33, -0.19, -0.06, 0.08, 0.22, 0.35, 0.49, 0.63, 0.76, 0.9, 1.03, 1.15]),
    ([0.006, 0.001, 0.009, 0.003, 0.011, 0.0, 0.007, 0.004, 0.01],
     [-1.08, -0.81, -0.54, -0.26, 0.01, 0.28, 0.56, 0.83, 1.09]),
    ([0.017, 0.025, 0.014, 0.028, 0.021, 0.015, 0.026, 0.019, 0.023, 0.016, 0.027, 0.02, 0.014, 0.024, 0.018, 0.022],
     [-1.0, -0.86, -0.73, -0.59, -0.45, -0.32, -0.18, -0.04, 0.09, 0.23, 0.37, 0.5, 0.64, 0.78, 0.92, 1.05]),
    ([0.029, 0.031, 0.028, 0.032, 0.03, 0.029, 0.031, 0.028, 0.03, 0.032, 0.029, 0.031, 0.03, 0.028, 0.03],
     [-0.93, -0.79, -0.66, -0.52, -0.38, -0.25, -0.11, 0.03, 0.16, 0.3, 0.44, 0.57, 0.71, 0.86, 1.0]),
    ([0.034, 0.046, 0.031, 0.049, 0.038, 0.033, 0.045, 0.036, 0.042, 0.032, 0.048, 0.039, 0.035, 0.044],
     [-0.86, -0.72, -0.59, -0.45, -0.31, -0.18, -0.04, 0.1, 0.23, 0.37, 0.51, 0.64, 0.8, 0.95]),
    ([0.051, 0.053, 0.05, 0.054, 0.052, 0.051, 0.053, 0.05, 0.052, 0.054, 0.051, 0.053, 0.052],
     [-0.81, -0.67, -0.54, -0.4, -0.26, -0.13, 0.01, 0.15, 0.28, 0.42, 0.56, 0.7, 0.88]),
    ([0.059, 0.071, 0.056, 0.074, 0.063, 0.058, 0.07, 0.061, 0.067, 0.057, 0.073, 0.064],
     [-0.76, -0.62, -0.49, -0.35, -0.21, -0.08, 0.06, 0.2, 0.33, 0.47, 0.64, 0.85]),
    ([0.077, 0.079, 0.076, 0.08, 0.078, 0.077, 0.079, 0.076, 0.078, 0.08, 0.077],
     [-0.7, -0.57, -0.43, -0.29, -0.16, -0.02, 0.12, 0.25, 0.39, 0.53, 0.68]),
    ([0.084, 0.097, 0.08, 0.101, 0.089, 0.082, 0.096, 0.086, 0.093, 0.079, 0.099],
     [-0.66, -0.52, -0.39, -0.25, -0.11, 0.02, 0.16, 0.3, 0.43, 0.57, 0.72]),
    ([0.102, 0.104, 0.101, 0.105, 0.103, 0.102, 0.104, 0.101, 0.103, 0.105],
     [-0.64, -0.5, -0.37, -0.23, -0.09, 0.04, 0.18, 0.32, 0.45, 0.6]),
    ([0.109, 0.122, 0.105, 0.126, 0.114, 0.107, 0.121, 0.111, 0.118, 0.104],
     [-0.61, -0.47, -0.34, -0.2, -0.06, 0.07, 0.21, 0.35, 0.48, 0.64]),
    ([0.129, 0.126, 0.13, 0.127, 0.129, 0.125, 0.128, 0.13, 0.126, 0.129],
     [-0.62, -0.48, -0.34, -0.2, -0.07, 0.07, 0.21, 0.34, 0.48, 0.63]),
    ([0.134, 0.147, 0.13, 0.151, 0.139, 0.132, 0.146, 0.136, 0.143, 0.129, 0.149],
     [-0.68, -0.54, -0.41, -0.27, -0.13, 0.0, 0.14, 0.28, 0.41, 0.55, 0.7]),
    ([0.154, 0.151, 0.155, 0.152, 0.154, 0.15, 0.153, 0.155, 0.151, 0.154],
     [-0.64, -0.5, -0.37, -0.23, -0.09, 0.04, 0.18, 0.32, 0.45, 0.6]),
    ([0.159, 0.172, 0.155, 0.176, 0.164, 0.157, 0.171, 0.161, 0.168, 0.154],
     [-0.6, -0.46, -0.33, -0.19, -0.05, 0.08, 0.22, 0.36, 0.5, 0.66]),
    ([0.179, 0.176, 0.18, 0.177, 0.179, 0.175, 0.178, 0.18, 0.176],
     [-0.6, -0.46, -0.32, -0.18, -0.04, 0.1, 0.23, 0.37, 0.52]),
    ([0.184, 0.197, 0.18, 0.201, 0.189, 0.182, 0.196, 0.186, 0.193, 0.179],
     [-0.66, -0.52, -0.38, -0.25, -0.11, 0.03, 0.16, 0.3, 0.44, 0.6]),
    ([0.204, 0.201, 0.205, 0.202, 0.204, 0.2, 0.203, 0.205, 0.201],
     [-0.58, -0.44, -0.31, -0.17, -0.03, 0.1, 0.24, 0.38, 0.54]),
    ([0.209, 0.222, 0.205, 0.226, 0.214, 0.207, 0.221, 0.211, 0.218, 0.204],
     [-0.62, -0.48, -0.35, -0.21, -0.07, 0.06, 0.2, 0.34, 0.47, 0.62]),
    ([0.229, 0.226, 0.23, 0.227, 0.229, 0.225, 0.228, 0.23, 0.226],
     [-0.6, -0.46, -0.33, -0.19, -0.05, 0.08, 0.22, 0.36, 0.5]),
    ([0.234, 0.247, 0.23, 0.251, 0.239, 0.232, 0.246, 0.236, 0.243, 0.229, 0.249],
     [-0.67, -0.53, -0.4, -0.26, -0.12, 0.01, 0.15, 0.29, 0.42, 0.58, 0.74]),
    ([0.254, 0.251, 0.255, 0.252, 0.254, 0.25, 0.253, 0.255, 0.251, 0.254],
     [-0.62, -0.48, -0.34, -0.2, -0.07, 0.07, 0.21, 0.34, 0.48, 0.62]),
    ([0.259, 0.272, 0.255, 0.276, 0.264, 0.257, 0.271, 0.261, 0.268, 0.254],
     [-0.6, -0.46, -0.33, -0.19, -0.05, 0.08, 0.22, 0.36, 0.5, 0.68]),
    ([0.279, 0.276, 0.28, 0.277, 0.279, 0.275, 0.278, 0.28, 0.276],
     [-0.58, -0.44, -0.3, -0.16, -0.02, 0.11, 0.25, 0.39, 0.54]),
    ([0.284, 0.297, 0.28, 0.301, 0.289, 0.282, 0.296, 0.286, 0.293, 0.279],
     [-0.64, -0.5, -0.37, -0.23, -0.09, 0.04, 0.18, 0.32, 0.46, 0.62]),
    ([0.304, 0.301, 0.305, 0.302, 0.304, 0.3, 0.303, 0.305, 0.301],
     [-0.6, -0.46, -0.33, -0.19, -0.05, 0.08, 0.22, 0.36, 0.5]),
    ([0.309, 0.322, 0.305, 0.326, 0.314, 0.307, 0.321, 0.311, 0.318, 0.304],
     [-0.58, -0.44, -0.31, -0.17, -0.03, 0.1, 0.24, 0.38, 0.52, 0.7]),
    ([0.329, 0.326, 0.33, 0.327, 0.329, 0.325, 0.328, 0.33, 0.326],
     [-0.56, -0.42, -0.28, -0.14, -0.01, 0.12, 0.26, 0.4, 0.56]),
    ([0.334, 0.347, 0.33, 0.351, 0.339, 0.332, 0.346, 0.336, 0.343, 0.329],
     [-0.63, -0.49, -0.36, -0.22, -0.08, 0.05, 0.19, 0.33, 0.48, 0.64]),
    ([0.354, 0.351, 0.355, 0.352, 0.354, 0.35, 0.353, 0.355, 0.351],
     [-0.58, -0.44, -0.3, -0.16, -0.02, 0.11, 0.25, 0.39, 0.52]),
    ([0.359, 0.372, 0.355, 0.376, 0.364, 0.357, 0.371, 0.361, 0.368],
     [-0.57, -0.43, -0.3, -0.16, -0.02, 0.11, 0.25, 0.4, 0.56]),
    ([0.379, 0.376, 0.38, 0.377, 0.379, 0.375, 0.378, 0.38],
     [-0.55, -0.41, -0.27, -0.13, 0.0, 0.14, 0.28, 0.42]),
    ([0.384, 0.397, 0.38, 0.401, 0.389, 0.382, 0.396, 0.386, 0.393, 0.379],
     [-0.65, -0.51, -0.38, -0.24, -0.1, 0.03, 0.17, 0.31, 0.46, 0.62]),
    ([0.404, 0.401, 0.405, 0.402, 0.404, 0.4, 0.403, 0.405, 0.401],
     [-0.6, -0.46, -0.32, -0.18, -0.04, 0.09, 0.23, 0.37, 0.52]),
    ([0.409, 0.422, 0.405, 0.426, 0.414, 0.407, 0.421, 0.411, 0.418],
     [-0.58, -0.44, -0.31, -0.17, -0.03, 0.1, 0.24, 0.38, 0.54]),
    ([0.429, 0.426, 0.43, 0.427, 0.429, 0.425, 0.428, 0.43],
     [-0.54, -0.4, -0.26, -0.12, 0.02, 0.15, 0.29, 0.44]),
    ([0.434, 0.447, 0.43, 0.451, 0.439, 0.432, 0.446, 0.436, 0.443, 0.429],
     [-0.63, -0.49, -0.36, -0.22, -0.08, 0.05, 0.19, 0.33, 0.48, 0.66]),
    ([0.454, 0.451, 0.455, 0.452, 0.454, 0.45, 0.453, 0.455, 0.451],
     [-0.58, -0.44, -0.3, -0.16, -0.02, 0.11, 0.25, 0.4, 0.55]),
    ([0.459, 0.472, 0.455, 0.476, 0.464, 0.457, 0.471, 0.461, 0.468],
     [-0.56, -0.42, -0.29, -0.15, -0.01, 0.12, 0.26, 0.42, 0.6]),
    ([0.479, 0.476, 0.48, 0.477, 0.479, 0.475, 0.478, 0.48],
     [-0.52, -0.38, -0.24, -0.1, 0.04, 0.17, 0.31, 0.46]),
    ([0.484, 0.497, 0.48, 0.501, 0.489, 0.482, 0.496, 0.486, 0.493],
     [-0.6, -0.46, -0.33, -0.19, -0.05, 0.08, 0.22, 0.36, 0.52]),
    ([0.504, 0.501, 0.505, 0.502, 0.504, 0.5, 0.503], [-0.5, -0.36, -0.22, -0.08, 0.06, 0.19, 0.34]),
    ([0.509, 0.522, 0.505, 0.526, 0.514, 0.507, 0.521, 0.511],
     [-0.55, -0.41, -0.28, -0.14, 0.0, 0.13, 0.27, 0.44]),
    ([0.529, 0.526, 0.53, 0.527, 0.529, 0.525, 0.528, 0.53],
     [-0.5, -0.36, -0.22, -0.08, 0.05, 0.19, 0.33, 0.48]),
    ([0.534, 0.547, 0.53, 0.551, 0.539, 0.532, 0.546, 0.536, 0.543],
     [-0.58, -0.44, -0.31, -0.17, -0.03, 0.1, 0.24, 0.4, 0.56]),
    ([0.556, 0.553, 0.557, 0.554, 0.556, 0.552], [-0.4, -0.26, -0.12, 0.03, 0.17, 0.32]),
    ([0.563, 0.578, 0.559, 0.582, 0.569, 0.561, 0.576], [-0.46, -0.32, -0.18, -0.04, 0.1, 0.24, 0.42]),
    ([0.586, 0.583, 0.587, 0.584, 0.586], [-0.33, -0.19, -0.05, 0.09, 0.24]),
    ([0.593, 0.608, 0.589, 0.612, 0.599, 0.591], [-0.4, -0.26, -0.12, 0.02, 0.16, 0.32]),
    ([0.616, 0.613, 0.617, 0.614, 0.616, 0.612], [-0.37, -0.23, -0.09, 0.05, 0.2, 0.36]),
    ([0.623, 0.638, 0.619, 0.642, 0.629, 0.621, 0.636], [-0.44, -0.3, -0.16, -0.02, 0.12, 0.28, 0.46]),
    ([0.646, 0.643, 0.647, 0.644, 0.646], [-0.29, -0.15, -0.01, 0.14, 0.3]),
    ([0.653, 0.668, 0.649, 0.672, 0.659, 0.651], [-0.36, -0.22, -0.08, 0.06, 0.22, 0.38]),
    ([0.676, 0.673, 0.677, 0.674], [-0.33, -0.19, -0.05, 0.1]),
    ([0.683, 0.698, 0.679, 0.702, 0.689], [-0.4, -0.26, -0.12, 0.02, 0.18]),
    ([0.706, 0.703, 0.707, 0.704], [-0.23, -0.09, 0.06, 0.22]),
    ([0.713, 0.728, 0.709, 0.732, 0.719], [-0.3, -0.16, -0.02, 0.14, 0.3]),
    ([0.743, 0.758, 0.739], [-0.25, -0.1, 0.06]),
]
quiet_extra = [
    (0.068, 2.34), (0.331, 2.19), (0.06, 1.78), (0.057, 1.47), (0.0, 1.39), (0.449, 1.68),
    (0.468, 1.66), (0.441, 1.6), (0.381, 1.57), (0.295, 1.33), (0.32, 1.3), (0.276, 1.19),
    (0.206, 1.27), (0.233, 1.27), (0.198, 1.12), (0.146, 1.23), (0.379, 1.23), (0.457, 1.19),
    (0.541, 1.25), (0.559, 1.06), (0.514, 1.06), (0.473, 1.06), (0.425, 0.91), (0.34, 1.01),
    (0.365, 0.85), (0.238, 1.01), (0.214, 1.07), (0.16, 0.88), (0.635, 0.85), (0.692, 0.82),
    (0.665, 0.67), (0.7, 0.76), (0.862, 0.59), (1.0, 0.39), (0.74, 0.52), (0.765, 0.04),
    (0.797, 0.01), (0.82, -0.05), (0.862, -0.11), (0.878, -0.32), (0.927, -0.49), (0.922, -0.62),
    (0.862, -0.44), (0.82, -0.57), (0.733, -0.62), (0.733, -0.77), (0.643, -0.71), (0.543, -0.95),
    (0.494, -0.87), (0.514, -0.77), (0.449, -0.71), (0.408, -0.74), (0.335, -0.69), (0.311, -0.77),
    (0.263, -0.77), (0.217, -0.77), (0.149, -0.87), (0.109, -0.99), (0.125, -1.04), (0.036, -1.13),
    (0.044, -1.19), (0.011, -1.25), (0.0, -1.49), (0.015, -1.6), (0.036, -1.6), (0.425, -1.31),
    (0.53, -0.53), (0.587, -0.32), (0.08, 1.0), (0.1, 0.9), (0.12, 0.85), (0.25, 0.85),
    (0.3, 0.8), (0.41, 0.8), (0.5, 0.8), (0.55, 0.7), (0.6, 0.55), (0.65, 0.5),
    (0.7, 0.45), (0.78, 0.3), (0.8, 0.15), (0.85, 0.05), (0.9, -0.35), (0.68, -0.5),
    (0.62, -0.55), (0.58, -0.7), (0.38, -0.85), (0.2, -0.85), (0.08, -0.95), (0.05, -1.0),
]
quiet_sx = [0, 0.1, 0.2, 0.3, 0.4, 0.5, 0.6, 0.7, 0.8, 0.9, 1.0]
quiet_fit = [0.0, -0.01, 0.0, 0.02, 0.03, 0.03, 0.01, -0.04, -0.1, -0.16, -0.23]
quiet_hw = [0.04, 0.03, 0.03, 0.03, 0.03, 0.03, 0.04, 0.06, 0.1, 0.17, 0.27]


def make_panel(var, cloud, extra, sx, fit, hw):
    rows = [(x, y) for xs_, ys_ in cloud for x, y in zip(xs_, ys_)] + list(extra)
    pts = pd.DataFrame(rows, columns=["x", "y"])
    sm = pd.DataFrame({
        "x": sx,
        "fit": fit,
        "lo": [f - h for f, h in zip(fit, hw)],
        "hi": [f + h for f, h in zip(fit, hw)],
    })
    xs = alt.Scale(domain=X_DOMAIN, nice=False, zero=False)
    ys = alt.Scale(domain=Y_DOMAIN, nice=False, zero=False)
    xax = alt.Axis(values=X_TICKS, format=".2f", title=var, grid=True)
    yax = alt.Axis(values=Y_TICKS, title="Partial effect", grid=True,
                   labelExpr="datum.value < 0 ? '-' + format(-datum.value, 'd') : format(datum.value, 'd')")

    def X(f):
        return alt.X(f"{f}:Q", scale=xs, axis=xax)

    def Y(f):
        return alt.Y(f"{f}:Q", scale=ys, axis=yax)

    vgrid = alt.Chart(pd.DataFrame({"x": X_MINOR})).mark_rule(
        color="#EBEBEB", strokeWidth=0.8).encode(x=X("x"))
    hgrid = alt.Chart(pd.DataFrame({"y": Y_MINOR})).mark_rule(
        color="#EBEBEB", strokeWidth=0.8).encode(y=Y("y"))
    points = alt.Chart(pts).mark_circle(
        size=70, color=POINT_COLOR, opacity=0.6).encode(x=X("x"), y=Y("y"))
    band = alt.Chart(sm).mark_area(
        color="#7F7F7F", opacity=0.45, interpolate="monotone").encode(
        x=X("x"), y=Y("lo"), y2="hi:Q")
    line = alt.Chart(sm).mark_line(
        color="black", strokeWidth=2, interpolate="monotone").encode(x=X("x"), y=Y("fit"))
    rug = alt.Chart(pts).mark_rule(color="black", strokeWidth=1, opacity=0.75).encode(
        x=X("x"), y=alt.value(H - 10), y2=alt.value(H))
    return alt.layer(vgrid, hgrid, points, band, line, rug).properties(
        width=W, height=H,
        title=alt.TitleParams(text=f"s({var})", anchor="start", frame="group", offset=10.5))


p1 = make_panel("Anthropophony", anthro_cloud, anthro_extra, anthro_sx, anthro_fit, anthro_hw)
p2 = make_panel("Biophony", bio_cloud, bio_extra, bio_sx, bio_fit, bio_hw)
p3 = make_panel("Geophony", geo_cloud, geo_extra, geo_sx, geo_fit, geo_hw)
p4 = make_panel("Interference", int_cloud, int_extra, int_sx, int_fit, int_hw)
p5 = make_panel("Quiet", quiet_cloud, quiet_extra, quiet_sx, quiet_fit, quiet_hw)

row1 = alt.hconcat(p1, p2, p3, p4, spacing=15.6)
chart = alt.vconcat(row1, p5, spacing=25).properties(
    padding={"left": 8.5, "top": 6.5, "right": 5, "bottom": 5},
    background="white",
).configure_axis(
    labelFont=FONT, titleFont=FONT, labelFontSize=18.7, titleFontSize=23.4,
    labelColor="#4D4D4D", titleColor="black", titleFontWeight="normal",
    tickColor="#333333", tickSize=6, tickWidth=1, domain=False,
    gridColor="#EBEBEB", gridWidth=1.6, labelPadding=4, titlePadding=4,
).configure_view(
    stroke="#333333", strokeWidth=1,
).configure_title(
    font=FONT, fontSize=28, fontWeight="normal", anchor="start", color="black",
)

chart.save("out.html", embed_options={"renderer": "svg", "actions": False})
